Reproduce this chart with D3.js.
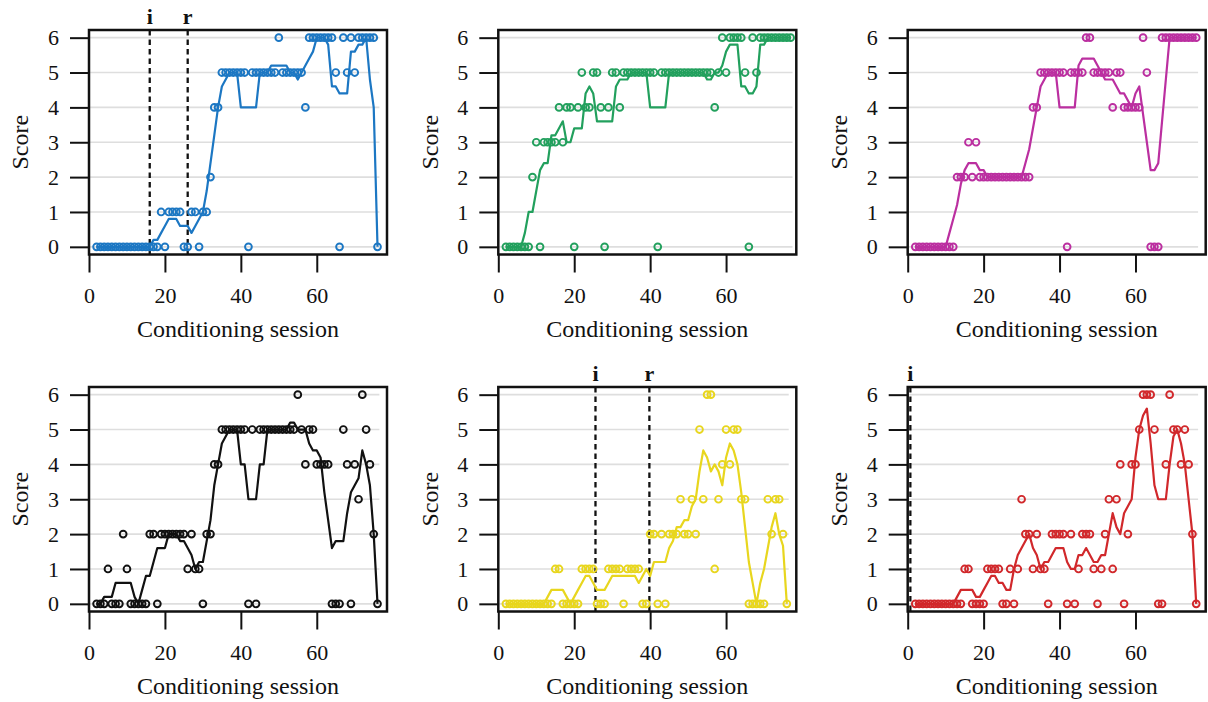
<!DOCTYPE html>
<html><head><meta charset="utf-8">
<script src="https://cdn.jsdelivr.net/npm/d3@7"></script>
<style>body{margin:0;background:#fff}</style>
</head><body>
<svg id="chart" width="1208" height="702"></svg>
<script>
// ---------- data (scores per conditioning session, sessions start at 2) ----------
const firstSession = 2;
const blueScores = [0,0,0,0,0,0,0,0,0,0,0,0,0,0,0,0,0, 1,0,1,1,1,1,0,0,1,1,0,1,1,2,4,4,
  5,5,5,5,5,5,5, 0, 5,5,5,5,5,5,5, 6, 5,5,5,5,5,5, 4, 6,6,6,6,6,6,6, 5,0,6,5,6,5, 6,6,6,6,6, 0];
const greenScores = [0,0,0,0,0,0,0, 2,3,0, 3,3,3,3, 4,3,4,4,0,4,5,4,4,5,5,4,0,4,5,5,4,
  5,5,5,5,5,5,5,5,5, 0, 5,5,5,5,5,5,5,5,5,5,5,5,5,5, 4,5,6,5, 6,6,6,6, 5,0,6,5, 6,6,6,6,6,6,6,6,6];
const magentaScores = [0,0,0,0,0,0,0,0,0,0,0, 2,2,2, 3,2,3, 2,2,2,2,2,2,2,2,2,2,2,2,2,2, 4,4,
  5,5,5,5,5,5,5, 0, 5,5,5,5, 6,6, 5,5,5,5,5, 4, 5,5, 4,4,4,4,4, 6,5, 0,0,0, 6,6,6,6,6,6,6,6,6,6];
const blackScores = [0,0,0,1,0,0,0,2,1, 0,0,0,0,0, 2,2,0, 2,2,2,2,2,2,2, 1,2,1,1,0,2,2,4,4,
  5,5,5,5,5,5,5, 0,5,0, 5,5,5,5,5,5,5,5,5,5, 6,5,4,5,5, 4,4,4,4, 0,0,0, 5,4,0,4,3,6,5,4,2,0];
const yellowScores = [0,0,0,0,0,0,0,0,0,0,0,0,0, 1,1, 0,0,0,0,0, 1,1,1,1, 0,0,0, 1,1,1,1, 0, 1,1,1,1, 0,0,
  2,2,0,2,0,2,2,2,3,2,2,3,2,5,3,6,6,1,3,4,5,4,5,5,3,3, 0,0,0,0,0, 3,2,3,3,2,0];
const redScores = [0,0,0,0,0,0,0,0,0,0,0,0,0, 1,1, 0,0,0,0, 1,1,1,1,
  0,0,1,0,1,3,2,2,1,2,1,1,0, 2,2,2,2, 0,2,0,1,2,2,2,1,0,1,2,3,1,3,4,0,2,4,4,5, 6,6,6,
  5,0,0,4,6,5,5,4,5,4,2,0];

// event markers (session at which the dashed line is drawn)
const blueEvents = [{label: "i", session: 16}, {label: "r", session: 26}];
const yellowEvents = [{label: "i", session: 25.6}, {label: "r", session: 39.8}];
const redEvents = [{label: "i", session: 0.7}];

const xTickValues = [0, 20, 40, 60];
const yTickValues = [0, 1, 2, 3, 4, 5, 6];
const xTitle = "Conditioning session";
const yTitle = "Score";

const panels = [
  {scores: blueScores, color: "#1c77c3", events: blueEvents},
  {scores: greenScores, color: "#22a05d", events: []},
  {scores: magentaScores, color: "#bb2fa0", events: []},
  {scores: blackScores, color: "#111111", events: []},
  {scores: yellowScores, color: "#e8d61e", events: yellowEvents},
  {scores: redScores, color: "#d1282b", events: redEvents}
];

// running mean over 5 sessions (window shrinks symmetrically at the ends)
function runningMean(values, half) {
  return values.map((v, i) => {
    const h = Math.min(half, i, values.length - 1 - i);
    return d3.mean(values.slice(i - h, i + h + 1));
  });
}

// ---------- layout ----------
const svg = d3.select("#chart");
const colLeft = [89, 498.3, 907.7];
const rowTop = [30, 387];
const W = 298, H = 224.5;
const font = "'Liberation Serif', 'Times New Roman', serif";

panels.forEach((p, k) => {
  const L = colLeft[k % 3], T = rowTop[Math.floor(k / 3)];
  const g = svg.append("g").attr("transform", `translate(${L},${T})`);
  const x = d3.scaleLinear().domain([0, 78.5]).range([0, W]);
  const y = d3.scaleLinear().domain([-0.22, 6.22]).range([H, 0]);
  const data = p.scores.map((s, i) => ({session: firstSession + i, score: s}));
  const smooth = runningMean(p.scores, 2).map((m, i) => ({session: firstSession + i, score: m}));
  const lastSession = firstSession + p.scores.length - 1;

  // gridlines
  g.append("g").selectAll("line").data(yTickValues).join("line")
    .attr("x1", x(0.3)).attr("x2", x(lastSession + 0.5))
    .attr("y1", d => y(d)).attr("y2", d => y(d))
    .attr("stroke", "#dedede").attr("stroke-width", 1.6);

  // event lines
  p.events.forEach(e => {
    g.append("line").attr("x1", x(e.session)).attr("x2", x(e.session))
      .attr("y1", 0).attr("y2", H)
      .attr("stroke", "#111").attr("stroke-width", 2.3).attr("stroke-dasharray", "5.5,4");
    g.append("text").attr("x", x(e.session)).attr("y", -6)
      .attr("text-anchor", "middle").attr("font-family", font).attr("font-weight", "bold")
      .attr("font-size", 22).attr("fill", "#111").text(e.label);
  });

  // smoothed line
  g.append("path").datum(smooth)
    .attr("d", d3.line().x(d => x(d.session)).y(d => y(d.score)))
    .attr("fill", "none").attr("stroke", p.color).attr("stroke-width", 2.2)
    .attr("stroke-linejoin", "round");

  // points
  g.append("g").selectAll("circle").data(data).join("circle")
    .attr("cx", d => x(d.session)).attr("cy", d => y(d.score)).attr("r", 3.4)
    .attr("fill", "none").attr("stroke", p.color).attr("stroke-width", 1.9);

  // box
  g.append("rect").attr("x", 0).attr("y", 0).attr("width", W).attr("height", H)
    .attr("fill", "none").attr("stroke", "#111").attr("stroke-width", 2.5);

  // axes
  const ya = g.append("g").call(d3.axisLeft(y).tickValues(yTickValues)
    .tickFormat(d3.format("d")).tickSize(19).tickPadding(11));
  const xa = g.append("g").attr("transform", `translate(0,${H})`)
    .call(d3.axisBottom(x).tickValues(xTickValues).tickFormat(d3.format("d"))
    .tickSize(18).tickPadding(15));
  [ya, xa].forEach(a => {
    a.select(".domain").remove();
    a.selectAll(".tick line").attr("stroke", "#111").attr("stroke-width", 2);
    a.selectAll(".tick text").attr("font-family", font).attr("font-size", 22).attr("fill", "#111");
  });

  // titles
  g.append("text").attr("x", W / 2).attr("y", H + 74).attr("dy", "0.35em")
    .attr("text-anchor", "middle").attr("font-family", font).attr("font-size", 24)
    .attr("fill", "#111").text(xTitle);
  g.append("text").attr("transform", `translate(-69,${H / 2}) rotate(-90)`).attr("dy", "0.35em")
    .attr("text-anchor", "middle").attr("font-family", font).attr("font-size", 24)
    .attr("fill", "#111").text(yTitle);
});
</script>
</body></html>
